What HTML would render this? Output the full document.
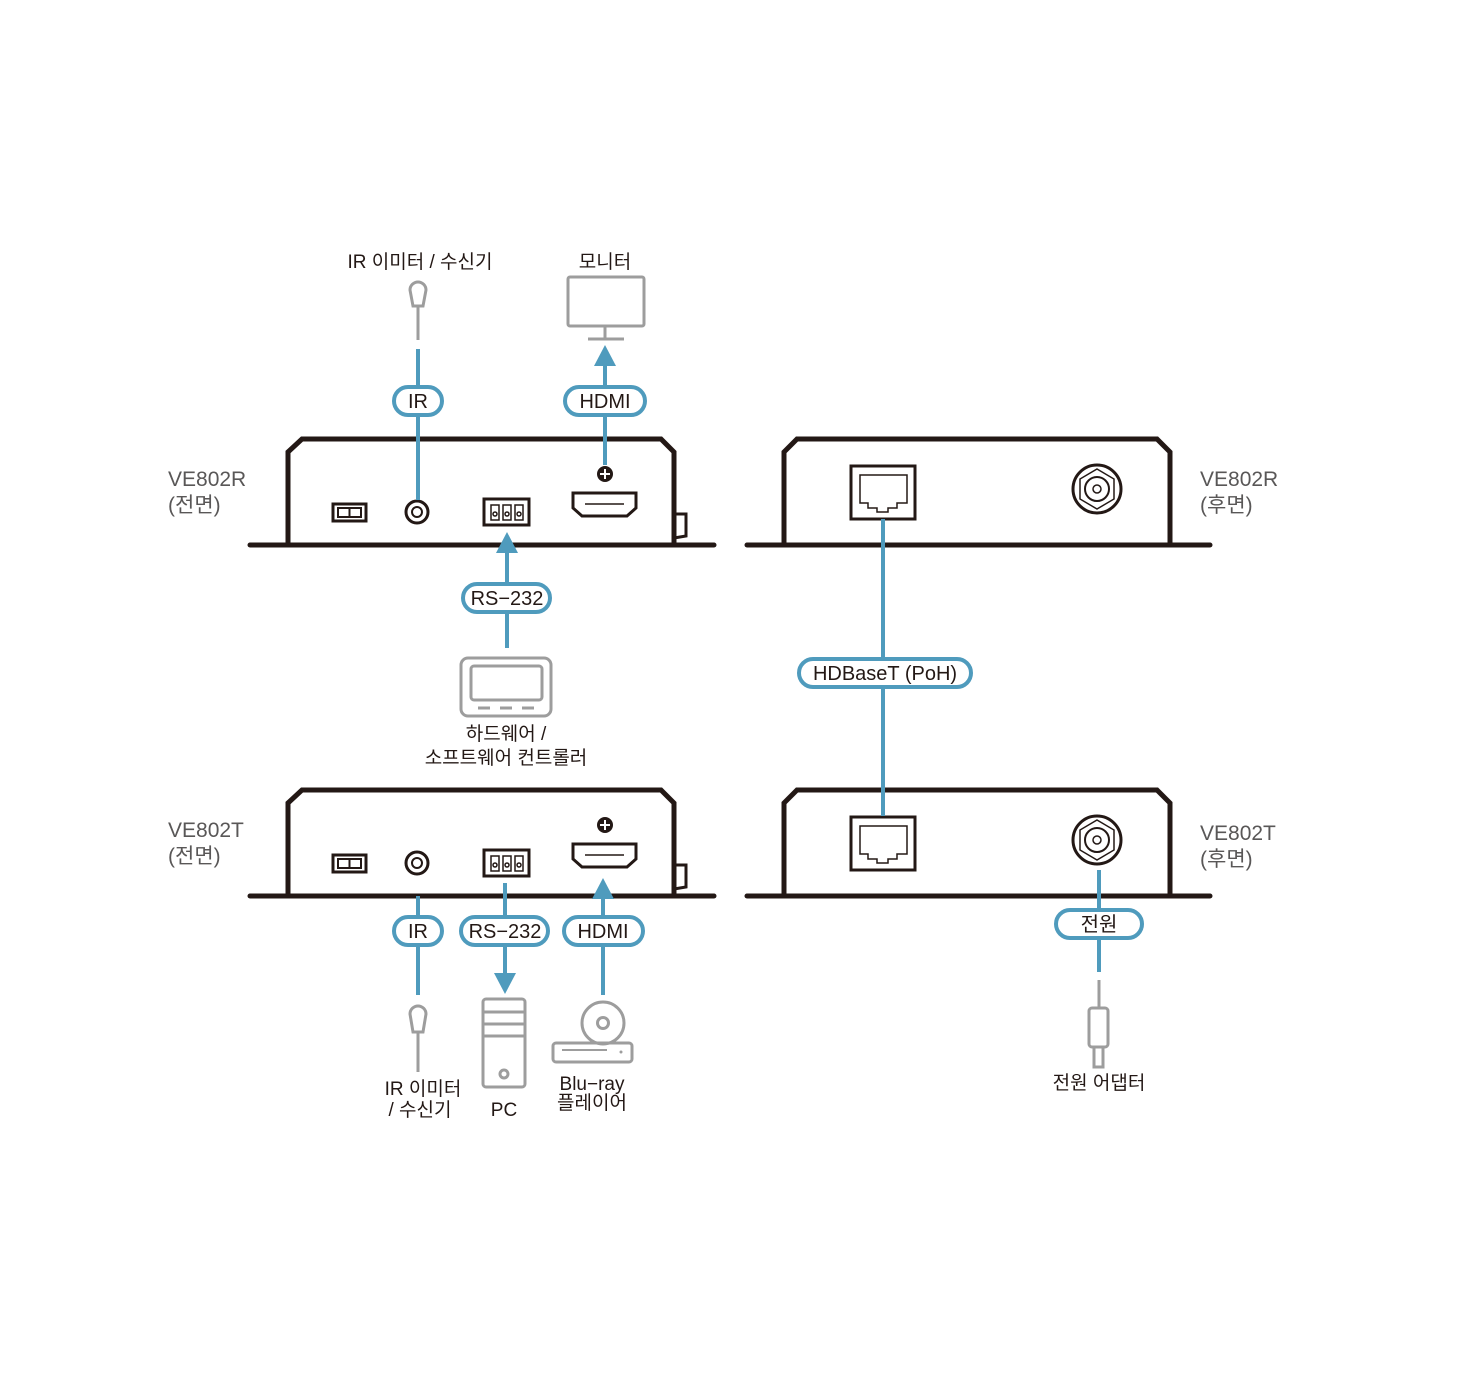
<!DOCTYPE html>
<html><head><meta charset="utf-8"><style>
html,body{margin:0;padding:0;background:#fff;}
svg{display:block;}
text{font-family:"Liberation Sans","Noto Sans CJK KR",sans-serif;}
</style></head><body>
<svg width="1458" height="1377" viewBox="0 0 1458 1377" xmlns="http://www.w3.org/2000/svg">
<defs>
<g id="front">
  <path d="M288 545 V452 L302 439 H661 L674 452 V545" fill="none" stroke="#231815" stroke-width="5"/>
  <path d="M674 514 H686 V536 L674 538" fill="none" stroke="#231815" stroke-width="3"/>
  <line x1="250" y1="545" x2="714" y2="545" stroke="#231815" stroke-width="5" stroke-linecap="round"/>
  <rect x="333" y="504" width="33" height="17" fill="none" stroke="#231815" stroke-width="3"/>
  <rect x="338" y="508" width="23" height="9" fill="none" stroke="#231815" stroke-width="2"/>
  <line x1="349.5" y1="508" x2="349.5" y2="517" stroke="#231815" stroke-width="2"/>
  <circle cx="417" cy="512" r="11" fill="none" stroke="#231815" stroke-width="3"/>
  <circle cx="417" cy="512" r="5" fill="none" stroke="#231815" stroke-width="2"/>
  <rect x="484" y="499" width="45" height="26" fill="none" stroke="#231815" stroke-width="3"/>
  <g fill="none" stroke="#231815" stroke-width="1.5">
    <rect x="491" y="505" width="8" height="15"/><rect x="503" y="505" width="8" height="15"/><rect x="515" y="505" width="8" height="15"/>
    <circle cx="495" cy="514" r="2"/><circle cx="507" cy="514" r="2"/><circle cx="519" cy="514" r="2"/>
  </g>
  <path d="M573 493 H636 V508 L627 516 H582 L573 508 Z" fill="none" stroke="#231815" stroke-width="3"/>
  <line x1="585" y1="504" x2="624" y2="504" stroke="#231815" stroke-width="1.5"/>
  <circle cx="605" cy="474" r="8" fill="#231815"/>
  <path d="M605 469 V479 M600 474 H610" stroke="#fff" stroke-width="2"/>
</g>
<g id="rear">
  <path d="M784 545 V452 L797 439 H1157 L1170 452 V545" fill="none" stroke="#231815" stroke-width="5"/>
  <line x1="747" y1="545" x2="1210" y2="545" stroke="#231815" stroke-width="5" stroke-linecap="round"/>
  <rect x="851" y="466" width="64" height="53" fill="none" stroke="#231815" stroke-width="3"/>
  <path d="M860 475 H907 V503 H897 V508 H888 V512 H877 V508 H868 V503 H860 Z" fill="none" stroke="#231815" stroke-width="1.5"/>
  <circle cx="1097" cy="489" r="24" fill="none" stroke="#231815" stroke-width="3"/>
  <polygon points="1097,469 1114,479 1114,499 1097,509 1080,499 1080,479" fill="none" stroke="#231815" stroke-width="1.5"/>
  <circle cx="1097" cy="489" r="12" fill="none" stroke="#231815" stroke-width="2"/>
  <circle cx="1097" cy="489" r="4" fill="none" stroke="#231815" stroke-width="1.5"/>
</g>
</defs>

<use href="#front"/>
<use href="#front" transform="translate(0,351)"/>
<use href="#rear"/>
<use href="#rear" transform="translate(0,351)"/>

<g fill="#595757" font-size="21">
  <text x="168" y="486">VE802R</text><text x="168" y="512">(전면)</text>
  <text x="168" y="837">VE802T</text><text x="168" y="863">(전면)</text>
  <text x="1200" y="486">VE802R</text><text x="1200" y="512">(후면)</text>
  <text x="1200" y="840">VE802T</text><text x="1200" y="866">(후면)</text>
</g>

<g stroke="#4f9bbd" stroke-width="4" fill="none">
  <line x1="418" y1="349" x2="418" y2="500"/>
  <line x1="605" y1="362" x2="605" y2="465"/>
  <line x1="507" y1="550" x2="507" y2="648"/>
  <line x1="883" y1="519" x2="883" y2="816"/>
  <line x1="418" y1="896" x2="418" y2="995"/>
  <line x1="505" y1="883" x2="505" y2="978"/>
  <line x1="603" y1="895" x2="603" y2="995"/>
  <line x1="1099" y1="870" x2="1099" y2="972"/>
</g>
<g fill="#4f9bbd">
  <polygon points="605,345 594,366 616,366"/>
  <polygon points="507,532 496,553 518,553"/>
  <polygon points="505,994 494,973 516,973"/>
  <polygon points="603,878 592,899 614,899"/>
</g>
<g fill="#fff" stroke="#4f9bbd" stroke-width="4">
  <rect x="394" y="387" width="48" height="28" rx="14"/>
  <rect x="565" y="387" width="80" height="28" rx="14"/>
  <rect x="463" y="584" width="87" height="28" rx="14"/>
  <rect x="799" y="659" width="172" height="28" rx="14"/>
  <rect x="394" y="917" width="48" height="28" rx="14"/>
  <rect x="461" y="917" width="87" height="28" rx="14"/>
  <rect x="564" y="917" width="79" height="28" rx="14"/>
  <rect x="1056" y="910" width="86" height="28" rx="14"/>
</g>
<g fill="#231815" font-size="20" text-anchor="middle">
  <text x="418" y="408">IR</text>
  <text x="605" y="408">HDMI</text>
  <text x="507" y="605">RS−232</text>
  <text x="885" y="680">HDBaseT (PoH)</text>
  <text x="418" y="938">IR</text>
  <text x="505" y="938">RS−232</text>
  <text x="603" y="938">HDMI</text>
  <text x="1099" y="931">전원</text>
</g>

<!-- gray devices -->
<g fill="none" stroke="#9d9d9d" stroke-width="3">
  <line x1="418" y1="306" x2="418" y2="340"/>
  <path d="M413 306 H423 L426 290 A8 8 0 0 0 410 290 Z"/>
  <rect x="568" y="277" width="76" height="49" rx="2"/>
  <line x1="605" y1="326" x2="605" y2="338"/>
  <line x1="588" y1="339" x2="624" y2="339"/>
  <rect x="461" y="658" width="90" height="58" rx="7"/>
  <rect x="471" y="666" width="71" height="34" rx="3"/>
  <path d="M478 708 H490 M500 708 H512 M522 708 H534"/>
  <path d="M413 1032 H423 L426 1014 A8 8 0 0 0 410 1014 Z"/>
  <line x1="418" y1="1032" x2="418" y2="1072"/>
  <rect x="483" y="999" width="42" height="88" rx="3"/>
  <path d="M483 1012 H525 M483 1024 H525 M483 1036 H525"/>
  <circle cx="504" cy="1074" r="4"/>
  <circle cx="603" cy="1023" r="21"/>
  <circle cx="603" cy="1023" r="5.5"/>
  <rect x="553" y="1043" width="79" height="19" rx="3"/>
  <line x1="562" y1="1050" x2="607" y2="1050" stroke-width="2"/>
  <line x1="1099" y1="980" x2="1099" y2="1008"/>
  <rect x="1089" y="1008" width="19" height="39" rx="3"/>
  <rect x="1094" y="1047" width="9" height="20"/>
</g>
<circle cx="621" cy="1052" r="1.5" fill="#9d9d9d"/>

<g fill="#231815" font-size="19" text-anchor="middle">
  <text x="420" y="268">IR 이미터 / 수신기</text>
  <text x="605" y="268">모니터</text>
  <text x="506" y="740">하드웨어 /</text>
  <text x="506" y="764">소프트웨어 컨트롤러</text>
  <text x="423" y="1095">IR 이미터</text>
  <text x="420" y="1116">/ 수신기</text>
  <text x="504" y="1116">PC</text>
  <text x="592" y="1090">Blu−ray</text>
  <text x="592" y="1109">플레이어</text>
  <text x="1099" y="1089">전원 어댑터</text>
</g>
</svg>
</body></html>
